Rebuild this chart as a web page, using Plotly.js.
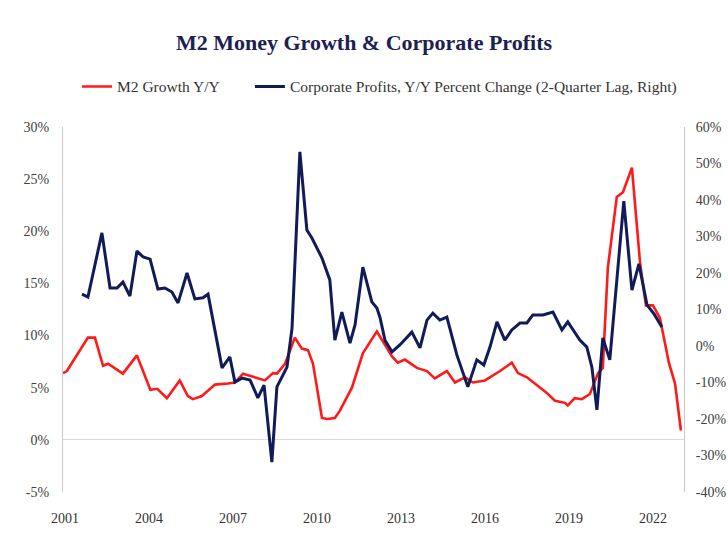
<!DOCTYPE html>
<html>
<head>
<meta charset="utf-8">
<script src="https://cdn.plot.ly/plotly-3.0.1.min.js"></script>
<style>html,body{margin:0;padding:0;background:#fff;}#chart{width:728px;height:535px;}</style>
</head>
<body>
<div id="chart"></div>
<script>
// M2 growth, year-over-year (%), left axis
const m2Dates = [2000.93, 2001.07, 2001.82, 2002.07, 2002.36, 2002.54, 2003.07, 2003.57, 2004.05, 2004.3, 2004.64,
  2005.1, 2005.39, 2005.57, 2005.89, 2006.36, 2006.82, 2007.07, 2007.36, 2007.79, 2008.14, 2008.43, 2008.57,
  2008.86, 2009.21, 2009.46, 2009.68, 2009.86, 2010.18, 2010.36, 2010.64, 2010.82, 2011.25, 2011.64, 2012.14,
  2012.68, 2012.89, 2013.14, 2013.57, 2013.93, 2014.21, 2014.64, 2014.93, 2015.29, 2015.57, 2016.0, 2016.18,
  2016.54, 2016.96, 2017.18, 2017.5, 2017.89, 2018.21, 2018.5, 2018.86, 2018.96, 2019.21, 2019.46, 2019.75,
  2020.04, 2020.21, 2020.39, 2020.71, 2020.93, 2021.25, 2021.54, 2021.75, 2022.0, 2022.25, 2022.57, 2022.79, 2023.0];
const m2Growth = [6.4, 6.6, 9.8, 9.8, 7.1, 7.3, 6.35, 8.1, 4.8, 4.9, 4.0,
  5.7, 4.2, 3.9, 4.2, 5.3, 5.4, 5.5, 6.35, 6.0, 5.7, 6.4, 6.35,
  7.3, 9.8, 8.75, 8.6, 7.3, 2.1, 2.0, 2.1, 2.8, 5.0, 8.3, 10.4,
  8.0, 7.4, 7.7, 6.9, 6.6, 5.9, 6.6, 5.5, 6.0, 5.5, 5.7, 6.0,
  6.6, 7.4, 6.4, 6.0, 5.2, 4.5, 3.75, 3.55, 3.3, 4.0, 3.9, 4.4,
  6.4, 6.9, 16.5, 23.3, 23.75, 26.1, 17.0, 12.9, 12.9, 11.7, 7.4, 5.4, 0.9];

// Corporate profits, Y/Y % change (2-quarter lag), right axis
const cpDates = [2001.61, 2001.82, 2002.32, 2002.61, 2002.86, 2003.07, 2003.32, 2003.57, 2003.79, 2004.04,
  2004.32, 2004.57, 2004.82, 2005.04, 2005.36, 2005.64, 2005.93, 2006.11, 2006.61, 2006.89, 2007.07, 2007.32,
  2007.61, 2007.89, 2008.11, 2008.39, 2008.57, 2008.75, 2008.93, 2009.11, 2009.39, 2009.64, 2009.82, 2010.18,
  2010.46, 2010.64, 2010.89, 2011.18, 2011.36, 2011.64, 2011.96, 2012.14, 2012.25, 2012.43, 2012.68, 2012.96,
  2013.39, 2013.68, 2013.93, 2014.14, 2014.39, 2014.64, 2015.0, 2015.39, 2015.71, 2015.96, 2016.18, 2016.43,
  2016.71, 2016.96, 2017.25, 2017.5, 2017.71, 2018.07, 2018.43, 2018.75, 2018.96, 2019.39, 2019.64, 2019.82,
  2020.0, 2020.21, 2020.46, 2020.96, 2021.25, 2021.5, 2021.79, 2022.04, 2022.32];
const cpChange = [14.2, 13.4, 31.0, 15.9, 15.9, 17.5, 13.7, 26.0, 24.4, 23.8,
  15.6, 15.9, 14.8, 11.8, 20.0, 12.9, 13.2, 14.2, -6.0, -3.0, -9.9, -8.8,
  -9.3, -14.2, -10.7, -31.8, -11.2, -8.5, -5.8, 4.9, 53.2, 31.8, 29.6, 24.1,
  18.1, 1.6, 9.3, 0.8, 5.8, 21.6, 12.1, 10.4, 7.9, 1.6, -1.6, 0.3,
  3.8, -0.5, 7.1, 9.0, 7.1, 7.9, -2.5, -11.2, -3.8, -5.2, -0.3, 6.6,
  1.6, 4.4, 6.3, 6.3, 8.5, 8.5, 9.3, 4.4, 6.6, 1.6, -0.3, -5.8,
  -17.5, 2.2, -3.8, 39.7, 15.3, 22.5, 11.2, 8.8, 5.2];

const yearTicks = [2001, 2004, 2007, 2010, 2013, 2016, 2019, 2022];
const leftTicks = [-5, 0, 5, 10, 15, 20, 25, 30];
const rightTicks = [-40, -30, -20, -10, 0, 10, 20, 30, 40, 50, 60];

const serif = '"Liberation Serif", "DejaVu Serif", serif';
const pct = v => v + '%';
const legendFont = {family: serif, size: 15.5, color: '#333333'};

const traces = [
  {
    x: m2Dates, y: m2Growth, type: 'scatter', mode: 'lines',
    name: 'M2 Growth Y/Y',
    line: {color: '#ff1a1a', width: 2.6},
    yaxis: 'y', legend: 'legend'
  },
  {
    x: cpDates, y: cpChange, type: 'scatter', mode: 'lines',
    name: 'Corporate Profits, Y/Y Percent Change (2-Quarter Lag, Right)',
    line: {color: '#101b58', width: 3},
    yaxis: 'y2', legend: 'legend2'
  }
];

const layout = {
  width: 728, height: 535,
  margin: {l: 63, r: 44, t: 127, b: 43},
  paper_bgcolor: '#ffffff', plot_bgcolor: '#ffffff',
  font: {family: serif, size: 14, color: '#404040'},
  title: {
    text: '<b>M2 Money Growth & Corporate Profits</b>',
    x: 0.5, xanchor: 'center', y: 0.921, yanchor: 'middle',
    font: {family: serif, size: 22, color: '#1c2152'}
  },
  showlegend: true,
  legend: {
    orientation: 'h', x: 0.0225, xanchor: 'left', y: 1.11, yanchor: 'middle',
    font: legendFont
  },
  legend2: {
    orientation: 'h', x: 0.301, xanchor: 'left', y: 1.11, yanchor: 'middle',
    font: legendFont
  },
  xaxis: {
    range: [2000.93, 2023.11],
    tickmode: 'array', tickvals: yearTicks, ticktext: yearTicks.map(String),
    showgrid: false, zeroline: false, showline: false, ticks: '',
    ticklabelstandoff: 16,
    tickfont: {family: serif, size: 14, color: '#333333'}
  },
  yaxis: {
    range: [-5, 30], tickmode: 'array', tickvals: leftTicks, ticktext: leftTicks.map(pct),
    showgrid: false, zeroline: true, zerolinecolor: '#dcdcdc', zerolinewidth: 1,
    showline: true, linecolor: '#c8c8c8', linewidth: 1, ticks: '',
    ticklabelstandoff: 10,
    tickfont: {family: serif, size: 14, color: '#404040'}
  },
  yaxis2: {
    range: [-40, 60], tickmode: 'array', tickvals: rightTicks, ticktext: rightTicks.map(pct),
    overlaying: 'y', side: 'right',
    showgrid: false, zeroline: false,
    showline: true, linecolor: '#c8c8c8', linewidth: 1, ticks: '',
    ticklabelstandoff: 8,
    tickfont: {family: serif, size: 14, color: '#404040'}
  }
};

Plotly.newPlot('chart', traces, layout, {displayModeBar: false, staticPlot: true});
</script>
</body>
</html>
